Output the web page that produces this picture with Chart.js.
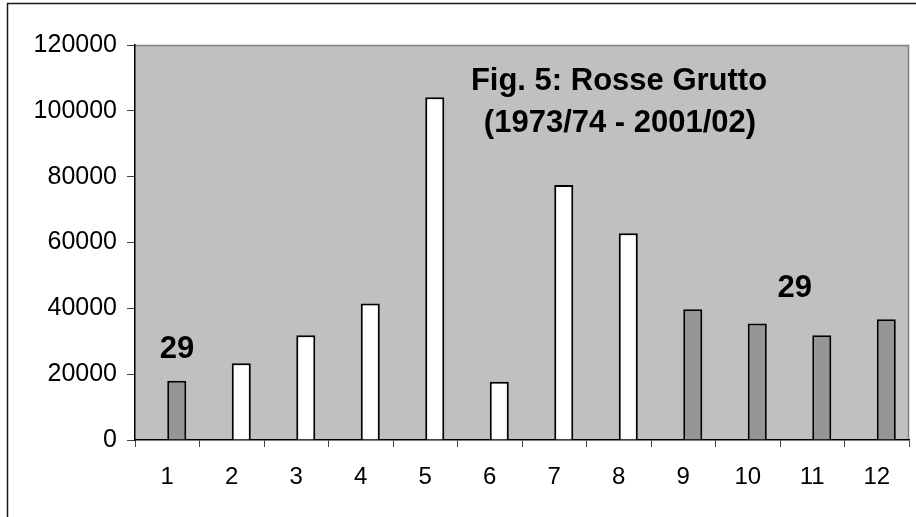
<!DOCTYPE html>
<html>
<head>
<meta charset="utf-8">
<script src="https://cdn.jsdelivr.net/npm/chart.js@4.4.1/dist/chart.umd.min.js"></script>
<style>
  html, body { margin: 0; padding: 0; background: #ffffff; }
  canvas { display: block; }
</style>
</head>
<body>
<canvas id="c" width="916" height="517"></canvas>
<script>
const categories = ['1', '2', '3', '4', '5', '6', '7', '8', '9', '10', '11', '12'];
const values = [18000, 23300, 31800, 41500, 104100, 17700, 77500, 62800, 39700, 35400, 31800, 36700];
const barColors = ['#969696', '#FFFFFF', '#FFFFFF', '#FFFFFF', '#FFFFFF', '#FFFFFF', '#FFFFFF', '#FFFFFF',
                   '#969696', '#969696', '#969696', '#969696'];
const yTicks = [0, 20000, 40000, 60000, 80000, 100000, 120000];
const noteTexts = ['29', '29'];
const noteX = [0.15, 9.73];
const noteY = [25000, 43500];
const titleLines = ['Fig. 5: Rosse Grutto', '(1973/74 - 2001/02)'];

const FONT = "'Liberation Sans', Arial, sans-serif";

const decor = {
  id: 'decor',
  beforeDraw(chart) {
    const ctx = chart.ctx;
    const a = chart.chartArea;
    ctx.save();
    ctx.fillStyle = '#ffffff';
    ctx.fillRect(0, 0, chart.width, chart.height);
    // outer frame
    ctx.strokeStyle = '#1a1a1a';
    ctx.lineWidth = 1.5;
    ctx.beginPath();
    ctx.moveTo(7.5, chart.height + 2);
    ctx.lineTo(7.5, 3.5);
    ctx.lineTo(chart.width + 2, 3.5);
    ctx.stroke();
    // plot area
    ctx.fillStyle = '#C0C0C0';
    ctx.fillRect(a.left, a.top, a.right - a.left, a.bottom - a.top);
    ctx.strokeStyle = '#808080';
    ctx.lineWidth = 1.5;
    ctx.beginPath();
    ctx.moveTo(a.left, a.top + 0.5);
    ctx.lineTo(a.right - 0.5, a.top + 0.5);
    ctx.lineTo(a.right - 0.5, a.bottom);
    ctx.stroke();
    ctx.restore();
  },
  afterDraw(chart) {
    const ctx = chart.ctx;
    const xs = chart.scales.x, ys = chart.scales.y;
    ctx.save();
    ctx.fillStyle = '#000000';
    ctx.textAlign = 'center';
    ctx.textBaseline = 'alphabetic';
    ctx.font = 'bold 31px ' + FONT;
    noteTexts.forEach((t, i) => {
      const x = xs.getPixelForValue(noteX[i]);
      const y = ys.getPixelForValue(noteY[i]);
      ctx.fillText(t, x, y);
    });
    ctx.font = 'bold 31px ' + FONT;
    ctx.fillText(titleLines[0], 619, 90);
    ctx.fillText(titleLines[1], 620, 132);
    ctx.restore();
  }
};

new Chart(document.getElementById('c'), {
  type: 'bar',
  data: {
    labels: categories,
    datasets: [
      { label: 'spacer', data: categories.map(() => null) },
      {
        label: 'Rosse Grutto',
        data: values,
        backgroundColor: barColors,
        borderColor: '#000000',
        borderWidth: 2,
        borderSkipped: 'start'
      }
    ]
  },
  options: {
    responsive: false,
    animation: false,
    categoryPercentage: 0.59,
    barPercentage: 1.0,
    layout: { padding: { top: 45, right: 7, left: 0, bottom: 0 } },
    plugins: { legend: { display: false }, tooltip: { enabled: false }, title: { display: false } },
    scales: {
      x: {
        grid: { offset: true, drawOnChartArea: false, tickLength: 7, color: '#444444', lineWidth: 1 },
        border: { display: true, color: '#000000', width: 1.5 },
        ticks: { font: { family: FONT, size: 24 }, color: '#000000', padding: 16, maxRotation: 0, autoSkip: false },
        afterFit: s => { s.height = 77; }
      },
      y: {
        min: 0,
        max: 120000,
        afterBuildTicks: s => { s.ticks = yTicks.map(v => ({ value: v })); },
        ticks: { font: { family: FONT, size: 25 }, color: '#000000', padding: 10, callback: v => String(v) },
        grid: { drawOnChartArea: false, tickLength: 8, color: '#444444', lineWidth: 1 },
        border: { display: true, color: '#000000', width: 1.5 },
        afterFit: s => { s.width = 135; }
      }
    }
  },
  plugins: [decor]
});
</script>
</body>
</html>
